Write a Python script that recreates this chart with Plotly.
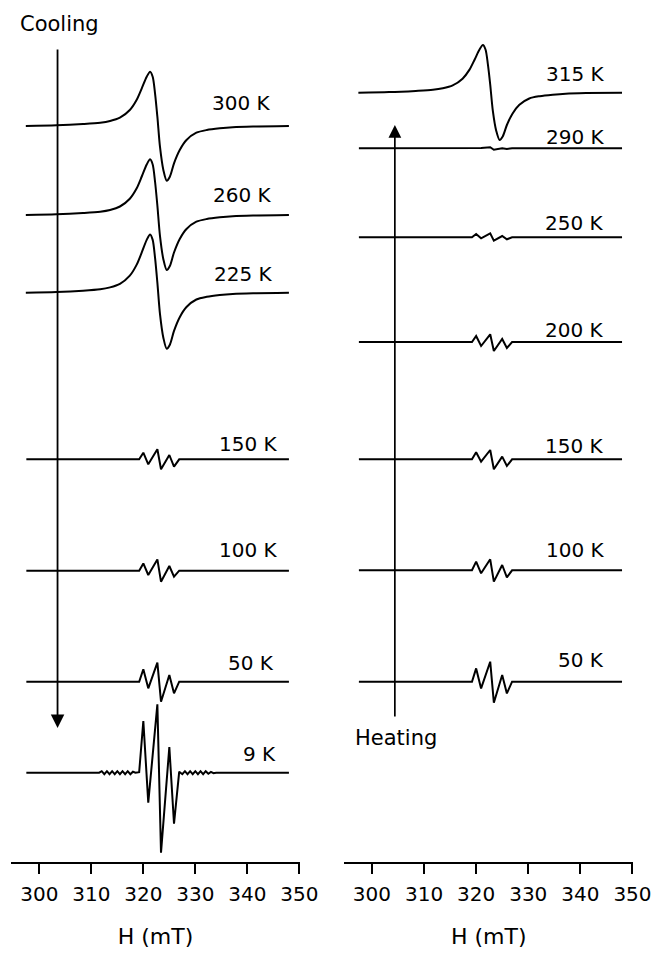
import plotly.graph_objects as go

# ---------------- data ----------------
# Broad exchange-narrowed line (field in mT, derivative signal in arbitrary units)
BROAD_FIELD = [297.4, 303.3, 308.4, 311.7, 313.6, 315.5, 317.4, 318.7, 319.7, 320.65,
               321.3, 321.8, 322.25, 322.7, 323.2, 323.85, 324.5, 325.1, 325.9, 327.0,
               328.3, 330.2, 332.2, 334.7, 337.2, 341.1, 348.0]
SIG_300K = [0, 0.7, 2, 3.3, 5, 8.3, 16, 26, 37.7, 49.3, 54.3, 49.3, 32.7, 9.3, -20.7,
            -44, -54.7, -50.7, -37.3, -24, -14, -6.7, -4, -2.3, -1.2, -0.5, 0]
SIG_260K = [0, 0.7, 2, 3.3, 5, 8.5, 16.3, 26.5, 38.5, 50.5, 55.7, 50.5, 33.5, 9.5, -20.8,
            -44.2, -55, -51, -37.5, -24, -14, -6.7, -4, -2.3, -1.2, -0.5, 0]
SIG_225K = [0, 0.7, 2, 3.4, 5.3, 8.8, 17, 27.8, 40.3, 52.8, 58.3, 52.8, 35, 10, -21.2,
            -45, -56, -52, -38.2, -24.5, -14.3, -6.8, -4.1, -2.3, -1.2, -0.5, 0]
SIG_315K = [0, 0.6, 1.8, 2.9, 4.4, 7.3, 14, 22.8, 33, 43.2, 47.7, 43.2, 28.6, 8.2, -17.9,
            -38, -47.3, -43.8, -32.3, -20.8, -12.1, -5.8, -3.5, -2, -1, -0.4, 0]

# Hyperfine-split spectrum: low-field ripple region, central lines, high-field ripple region
HF_START = [297.5]
HF_RIPPLE_LO = [311.5, 312.0, 312.5, 313.0, 313.5, 314.0, 314.5, 315.0, 315.5, 316.0,
                316.5, 317.0, 317.5, 318.0, 318.5]
HF_CORE = [319.2, 320.0, 320.95, 322.7, 323.4, 325.0, 325.9, 326.9]
HF_RIPPLE_HI = [327.5, 328.0, 328.5, 329.0, 329.5, 330.0, 330.5, 331.0, 331.5, 332.0,
                332.5, 333.0, 333.5, 334.0]
HF_END = [348.0]

CORE_150K_C = [0, 6.6, -5, 10, -10, 4.3, -7.3, 0]
CORE_100K_C = [0, 7.3, -4.3, 11.3, -11, 4.7, -6, 0]
CORE_50K_C = [0, 12.4, -6.6, 19, -20, 6.7, -11.6, 0]
CORE_9K_C = [0.5, 51.7, -30, 68.4, -80, 25.7, -51, 1]
RIPPLE_9K_LO = [0, 1.5, -1.5, 1.5, -1.5, 1.5, -1.5, 1.5, -1.5, 1.5, -1.5, 1.5, -1.5, 1, 0]
RIPPLE_9K_HI = [-1.5, 1.5, -1.5, 1.5, -1.5, 1.5, -1.5, 1.5, -1.5, 1.5, -1, 0.8, -0.5, 0]

CORE_290K_H = [0, 0.5, 0.3, 1, -1.5, 0, -0.7, 0]
CORE_250K_H = [0, 3.3, -1, 4, -3.3, 1.3, -2, 0]
CORE_200K_H = [0, 6, -4, 7.7, -9, 3, -6, 0]
CORE_150K_H = [0, 7, -2.3, 9.3, -10, 2.7, -6.7, 0]
CORE_100K_H = [0, 8.7, -3, 11, -11.3, 5.3, -7, 0]
CORE_50K_H = [0, 13.3, -6.7, 20, -21, 6.7, -11.7, 0]

COOLING_LABELS = ["300 K", "260 K", "225 K", "150 K", "100 K", "50 K", "9 K"]
HEATING_LABELS = ["315 K", "290 K", "250 K", "200 K", "150 K", "100 K", "50 K"]
TICK_VALS = [300, 310, 320, 330, 340, 350]
TICK_TEXT = ["300", "310", "320", "330", "340", "350"]

# ---------------- layout (stacking offsets / label placement) ----------------
COOL_OFFSETS = [-126, -215, -292.7, -459.3, -570.7, -681.7, -772.7]
HEAT_OFFSETS = [-92.7, -148.3, -237.3, -342, -459.3, -570.3, -681.7]
COOL_LABEL_X = [344.9, 345.1, 345.3, 346.3, 346.3, 345.5, 345.9]
COOL_LABEL_Y = [-103.3, -195, -274, -443.7, -549.7, -663.3, -753.7]
HEAT_LABEL_X = [345.2, 345.2, 345.0, 345.0, 345.0, 345.2, 345.0]
HEAT_LABEL_Y = [-74, -136.7, -223, -330, -445.5, -549.7, -660]

FONT = "DejaVu Sans"
LW = 2.0


def hf_field():
    return HF_START + HF_RIPPLE_LO + HF_CORE + HF_RIPPLE_HI + HF_END


def hf_signal(core, lo=None, hi=None):
    lo = lo if lo is not None else [0] * len(HF_RIPPLE_LO)
    hi = hi if hi is not None else [0] * len(HF_RIPPLE_HI)
    return [0] + lo + core + hi + [0]


cool_series = [
    (BROAD_FIELD, SIG_300K, "spline"),
    (BROAD_FIELD, SIG_260K, "spline"),
    (BROAD_FIELD, SIG_225K, "spline"),
    (hf_field(), hf_signal(CORE_150K_C), "linear"),
    (hf_field(), hf_signal(CORE_100K_C), "linear"),
    (hf_field(), hf_signal(CORE_50K_C), "linear"),
    (hf_field(), hf_signal(CORE_9K_C, RIPPLE_9K_LO, RIPPLE_9K_HI), "linear"),
]
heat_series = [
    (BROAD_FIELD, SIG_315K, "spline"),
    (hf_field(), hf_signal(CORE_290K_H), "linear"),
    (hf_field(), hf_signal(CORE_250K_H), "linear"),
    (hf_field(), hf_signal(CORE_200K_H), "linear"),
    (hf_field(), hf_signal(CORE_150K_H), "linear"),
    (hf_field(), hf_signal(CORE_100K_H), "linear"),
    (hf_field(), hf_signal(CORE_50K_H), "linear"),
]

fig = go.Figure()
for (xs, ys, shape), off, name in zip(cool_series, COOL_OFFSETS, COOLING_LABELS):
    fig.add_trace(go.Scatter(x=xs, y=[v + off for v in ys], mode="lines", name=name,
                             line=dict(color="black", width=LW, shape=shape, smoothing=0.8),
                             xaxis="x", yaxis="y", hoverinfo="skip"))
for (xs, ys, shape), off, name in zip(heat_series, HEAT_OFFSETS, HEATING_LABELS):
    fig.add_trace(go.Scatter(x=xs, y=[v + off for v in ys], mode="lines", name=name,
                             line=dict(color="black", width=LW, shape=shape, smoothing=0.8),
                             xaxis="x2", yaxis="y", hoverinfo="skip"))

annotations = []
for lab, x, y in zip(COOLING_LABELS, COOL_LABEL_X, COOL_LABEL_Y):
    annotations.append(dict(text=lab, x=x, y=y, xref="x", yref="y", showarrow=False,
                            xanchor="right", yanchor="middle",
                            font=dict(family=FONT, size=20, color="black")))
for lab, x, y in zip(HEATING_LABELS, HEAT_LABEL_X, HEAT_LABEL_Y):
    annotations.append(dict(text=lab, x=x, y=y, xref="x2", yref="y", showarrow=False,
                            xanchor="right", yanchor="middle",
                            font=dict(family=FONT, size=20, color="black")))

# direction arrows
annotations.append(dict(text="", x=303.5, y=-728, ax=303.5, ay=-48, xref="x", yref="y",
                        axref="x", ayref="y", showarrow=True, arrowhead=2, arrowsize=1.5,
                        arrowwidth=1.8, arrowcolor="black", standoff=0))
annotations.append(dict(text="", x=304.4, y=-125, ax=304.4, ay=-718, xref="x2", yref="y",
                        axref="x2", ayref="y", showarrow=True, arrowhead=2, arrowsize=1.5,
                        arrowwidth=1.7, arrowcolor="black", standoff=0))
annotations.append(dict(text="Cooling", x=303.8, y=-24, xref="x", yref="y", showarrow=False,
                        xanchor="center", yanchor="middle",
                        font=dict(family=FONT, size=21, color="black")))
annotations.append(dict(text="Heating", x=304.6, y=-738, xref="x2", yref="y", showarrow=False,
                        xanchor="center", yanchor="middle",
                        font=dict(family=FONT, size=21, color="black")))

xaxis_common = dict(showline=True, linecolor="black", linewidth=1.6, ticks="outside",
                    ticklen=10, tickwidth=1.6, tickcolor="black", tickvals=TICK_VALS,
                    ticktext=TICK_TEXT, showgrid=False, zeroline=False, anchor="y",
                    automargin=False,
                    tickfont=dict(family=FONT, size=20, color="black"),
                    ticklabelstandoff=3,
                    title=dict(text="H (mT)", font=dict(family=FONT, size=22, color="black"),
                               standoff=24))

fig.update_layout(
    width=655, height=957, margin=dict(l=0, r=0, t=0, b=0, autoexpand=False),
    paper_bgcolor="white", plot_bgcolor="white", showlegend=False,
    xaxis=dict(domain=[11 / 655, 300 / 655], range=[294.55, 350.13], **xaxis_common),
    xaxis2=dict(domain=[344.3 / 655, 633.3 / 655], range=[294.7, 350.16], **xaxis_common),
    yaxis=dict(domain=[95 / 957, 1], range=[-862, 0], visible=False, fixedrange=True,
               automargin=False),
    annotations=annotations,
)

fig.write_html("out.html")
